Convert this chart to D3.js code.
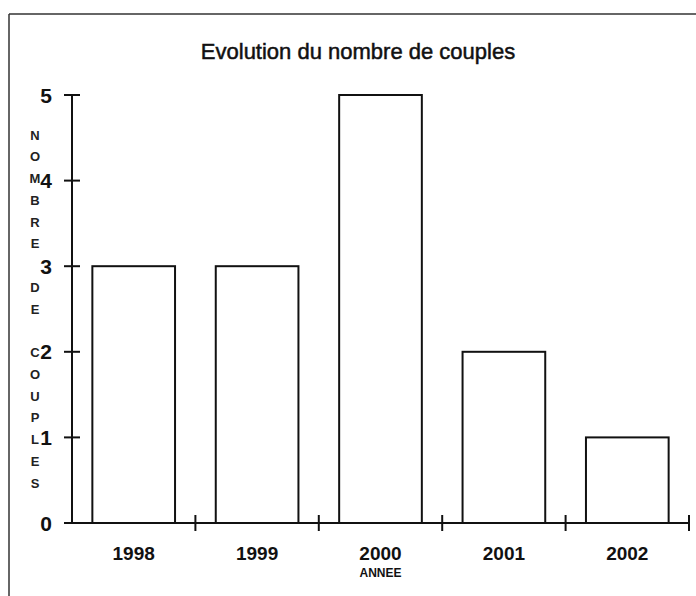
<!DOCTYPE html>
<html>
<head>
<meta charset="utf-8">
<script src="https://cdn.jsdelivr.net/npm/d3@7"></script>
<style>
  html, body { margin: 0; padding: 0; background: #fff; }
  svg { display: block; font-family: Arial, "Liberation Sans", sans-serif; }
</style>
</head>
<body>
<svg id="chart" width="696" height="596"></svg>
<script>
const categories = ["1998", "1999", "2000", "2001", "2002"];
const values = [3, 3, 5, 2, 1];
const yTicks = [0, 1, 2, 3, 4, 5];
const title = "Evolution du nombre de couples";
const xTitle = "ANNEE";
const yTitle = "NOMBRE DE COUPLES";

const svg = d3.select("#chart");
const ink = "#111";

// frame (scanned page border)
svg.append("line").attr("x1", 9).attr("x2", 696).attr("y1", 14).attr("y2", 14)
  .attr("stroke", "#333").attr("stroke-width", 1.5);
svg.append("line").attr("x1", 9).attr("x2", 9).attr("y1", 14).attr("y2", 596)
  .attr("stroke", "#333").attr("stroke-width", 1.5);

const x = d3.scaleBand().domain(categories).range([72, 689])
  .paddingInner(0.33).paddingOuter(0.165);
const y = d3.scaleLinear().domain([0, 5]).range([523, 95]);

// title
svg.append("text").attr("x", 358).attr("y", 59).attr("text-anchor", "middle")
  .attr("font-size", 22).attr("font-weight", "normal").attr("fill", ink)
  .attr("stroke", ink).attr("stroke-width", 0.5)
  .text(title);

// bars
svg.append("g").selectAll("rect").data(values).join("rect")
  .attr("x", (d, i) => x(categories[i]))
  .attr("y", d => y(d))
  .attr("width", x.bandwidth())
  .attr("height", d => y(0) - y(d))
  .attr("fill", "#fff").attr("stroke", ink).attr("stroke-width", 2);

// y axis
const yAxis = svg.append("g").attr("transform", "translate(72,0)");
yAxis.append("line").attr("x1", 0).attr("x2", 0).attr("y1", y(5)).attr("y2", y(0))
  .attr("stroke", ink).attr("stroke-width", 2);
yAxis.selectAll("line.tick").data(yTicks).join("line").attr("class", "tick")
  .attr("x1", -8).attr("x2", 8).attr("y1", d => y(d)).attr("y2", d => y(d))
  .attr("stroke", ink).attr("stroke-width", 2);
yAxis.selectAll("text").data(yTicks).join("text")
  .attr("x", -20).attr("y", d => y(d)).attr("dy", "0.36em")
  .attr("text-anchor", "end").attr("font-size", 21).attr("font-weight", "bold")
  .attr("fill", ink).text(d => d);

// x axis
const xAxis = svg.append("g");
xAxis.append("line").attr("x1", 72).attr("x2", 689).attr("y1", y(0)).attr("y2", y(0))
  .attr("stroke", ink).attr("stroke-width", 2);
const bounds = categories.map(c => x(c) + x.step() - x.step() * x.paddingInner() / 2);
xAxis.selectAll("line.tick").data(bounds).join("line").attr("class", "tick")
  .attr("x1", d => d).attr("x2", d => d).attr("y1", y(0) - 8).attr("y2", y(0) + 8)
  .attr("stroke", ink).attr("stroke-width", 2);
xAxis.selectAll("text").data(categories).join("text")
  .attr("x", d => x(d) + x.bandwidth() / 2).attr("y", 560)
  .attr("text-anchor", "middle").attr("font-size", 19).attr("font-weight", "bold")
  .attr("fill", ink).text(d => d);

// axis titles
svg.append("text").attr("x", x("2000") + x.bandwidth() / 2).attr("y", 577)
  .attr("text-anchor", "middle").attr("font-size", 12).attr("font-weight", "bold")
  .attr("fill", ink).text(xTitle);

const chars = yTitle.split("");
svg.append("g").selectAll("text").data(chars).join("text")
  .attr("x", 35).attr("y", (d, i) => 135 + i * 21.75).attr("dy", "0.36em")
  .attr("text-anchor", "middle").attr("font-size", 13).attr("font-weight", "bold")
  .attr("fill", "#222").text(d => d);
</script>
</body>
</html>
